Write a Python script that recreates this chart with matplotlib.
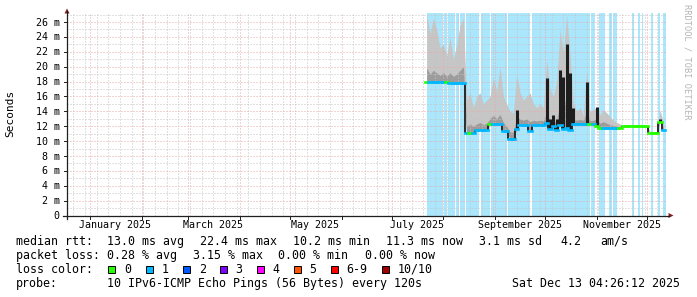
import numpy as np
import pandas as pd
import matplotlib
matplotlib.use("Agg")
import matplotlib.pyplot as plt
import matplotlib.dates as mdates
from matplotlib.lines import Line2D
from matplotlib.patches import Polygon, Rectangle

W, H = 697, 297
MONO = "DejaVu Sans Mono"

# graph window: rrdtool end = "now", 360 days back
t_start = pd.Timestamp("2024-12-18 04:26:12")
t_end = pd.Timestamp("2025-12-13 04:26:12")
year0 = pd.Timestamp("2025-01-01")

# samples every 2 days starting at day-of-year 202 (22 Jul 2025)
first_doy = 202.0
step_days = 2.0

median_ms = [18.0, 18.0, 18.0, 18.0, 18.0, 18.0, 18.0,
             17.8, 17.8, 17.8, 17.8, 17.8,
             11.1, 11.1, 11.1,
             11.5, 11.5, 11.5, 11.5,
             12.3, 12.3, 12.3, 12.3,
             11.4, 11.4,
             10.3, 10.3,
             11.6,
             12.2, 12.2, 12.2,
             11.3,
             12.2, 12.2, 12.2, 12.2,
             12.4,
             11.6, 12.0, 11.5, 12.1, 11.6, 11.8, 11.5, 12.3,
             12.3, 12.3, 12.3, 12.3, 12.3, 12.3,
             12.0,
             11.8, 11.8, 11.8, 11.8, 11.8, 11.8, 11.8,
             12.05, 12.05, 12.05, 12.05, 12.05, 12.05, 12.05, 12.05,
             11.1, 11.1, 11.1,
             12.5,
             11.5]

loss_pings = [0, 1, 1, 1, 1, 1, 0, 1, 1, 1, 1, 1,
              1, 0, 1, 1, 1, 1, 1, 0, 1, 1, 1, 1, 1,
              1, 1, 1, 1, 1, 1, 1,
              1, 1, 1, 1, 1, 1, 1, 1, 1, 1, 1, 1, 1, 1, 1, 1, 1,
              0, 1, 0, 0, 1, 1, 1, 1, 1,
              0, 0, 0, 0, 0, 0, 0, 0, 0, 0, 0, 0, 0,
              1]

smoke_hi = [27.0, 24.5, 26.5, 25.0, 22.5, 23.0, 21.5, 24.0, 21.0, 23.0, 25.5, 26.5,
            15.5, 16.5, 14.5, 16.0, 16.5, 15.0, 15.5, 16.0, 18.5, 16.7, 20.0, 16.0,
            15.0, 14.0, 13.8, 19.0, 16.5, 15.5, 16.0, 16.5, 15.0, 14.5, 15.0, 14.5,
            21.0, 17.0, 16.0, 18.0, 25.0, 21.8, 26.9, 21.6, 15.0, 14.0, 14.5, 13.5,
            19.6, 14.0, 14.2, 14.6,
            13.5, 14.2, 13.8, 13.3, 12.8, 12.5, 12.3,
            12.2, 12.2, 12.2, 12.2, 12.2, 12.2, 12.2, 12.2,
            11.3, 11.3, 11.3,
            14.2, 12.5]

smoke_mid = [19.8, 19.0, 19.5, 19.2, 18.8, 19.2, 18.7, 19.2, 18.7, 19.0, 19.5, 20.0,
             12.0, 12.3, 12.0, 12.3, 12.5, 12.2, 12.4, 13.0, 13.5, 13.0, 13.6, 12.5,
             12.0, 11.2, 11.2, 13.2, 13.0, 12.8, 13.0, 12.6, 12.8, 12.7, 12.8, 12.7,
             14.0, 12.6, 12.4, 12.8, 15.0, 14.0, 16.5, 14.5, 13.0, 12.8, 12.9, 12.8,
             14.0, 12.7, 12.8, 13.0,
             12.4, 12.6, 12.4, 12.2, 12.1, 12.0, 11.9,
             12.1, 12.1, 12.1, 12.1, 12.1, 12.1, 12.1, 12.1,
             11.2, 11.2, 11.2,
             12.9, 11.8]

nan = np.nan
smoke_core = [nan] * 27 + [14.2] + [nan] * 8 + \
             [18.5, 13.0, 13.5, 13.0, 19.6, 18.6, 23.0, 19.1, 14.5,
              nan, nan, nan, 18.0, nan, nan, 14.6] + \
             [nan] * 18 + [12.9, nan]

# day-of-year spans with loss (painted as background)
loss_spans = [(202.0, 211.5), (212.3, 214.0), (214.7, 219.0), (219.6, 221.4),
              (222.0, 224.7), (225.5, 233.6), (234.3, 240.0), (240.8, 250.2),
              (250.8, 264.0), (265.0, 300.0), (300.6, 303.0), (305.1, 309.0),
              (311.1, 312.9), (313.5, 315.9), (325.2, 326.1), (328.8, 330.0),
              (330.9, 331.8), (336.6, 337.8), (340.8, 341.7), (343.8, 345.3)]

loss_labels = ["0", "1", "2", "3", "4", "5", "6-9", "10/10"]
loss_colors = ["#26ff00", "#00b8ff", "#0059ff", "#7e00ff",
               "#ff00ff", "#ff5500", "#ff0000", "#a10000"]

# text rows below the graph
rtt_row = ["median rtt:", "13.0 ms avg", "22.4 ms max", "10.2 ms min",
           "11.3 ms now", "3.1 ms sd", "4.2", "am/s"]
loss_row = ["packet loss:", "0.28 % avg", "3.15 % max", "0.00 % min", "0.00 % now"]
probe_text = "10 IPv6-ICMP Echo Pings (56 Bytes) every 120s"
stamp_text = "Sat Dec 13 04:26:12 2025"

# ---- geometry (pixels, y from top) ----
X0, X1 = 67.0, 667.0
Y0 = 215.5
PX_PER_MS = (215.5 - 22.0) / 26.0
Y_TOP_MS = 27.2


def fx(x):
    return x / W


def fy(y):
    return 1 - y / H


def xpx(ts):
    return X0 + (ts - t_start) / (t_end - t_start) * (X1 - X0)


def ypx(v):
    return Y0 - v * PX_PER_MS


fig = plt.figure(figsize=(W / 100, H / 100), dpi=100)
fig.patch.set_facecolor("white")
ax = fig.add_axes([fx(X0), fy(Y0), (X1 - X0) / W, Y_TOP_MS * PX_PER_MS / H])
ax.set_xlim(mdates.date2num(t_start), mdates.date2num(t_end))
ax.set_ylim(0, Y_TOP_MS)
ax.set_axis_off()

n = len(median_ms)
t = [year0 + pd.Timedelta(days=first_doy + step_days * i) for i in range(n)]
tn = mdates.date2num(t)
half = step_days / 2
med = np.array(median_ms)
core = np.array(smoke_core)

# loss background
for a, b in loss_spans:
    ax.axvspan(mdates.date2num(year0 + pd.Timedelta(days=a)),
               mdates.date2num(year0 + pd.Timedelta(days=b)),
               color="#aae6fc", lw=0, zorder=0.5)

# smoke (spiky, linear between samples)
ax.fill_between(tn, med, smoke_hi, color="#c6c6c6", lw=0, zorder=1.0)
ax.fill_between(tn, med, smoke_mid, color="#9c9c9c", lw=0, zorder=1.1)
has_core = ~np.isnan(core)
ax.vlines(tn[has_core], med[has_core], core[has_core], color="#1e1e1e",
          lw=2.2, zorder=2.5)

# grid
grid_kw = dict(lw=0.72, linestyle=(0, (1, 2)), zorder=2)
for v in range(1, 28):
    if v % 2:
        ax.axhline(v, color="#c4c4c4", **grid_kw)
for v in range(2, 28, 2):
    ax.axhline(v, color="#eaa8a8", **grid_kw)
months = pd.date_range("2025-01-01", "2025-12-01", freq="MS")
sundays = pd.date_range("2024-12-22", "2025-12-13", freq="7D")
for d in sundays:
    if d not in months:
        ax.axvline(mdates.date2num(d), color="#c4c4c4", **grid_kw)
for d in months:
    ax.axvline(mdates.date2num(d), color="#eaa8a8", **grid_kw)

# median line coloured by loss, level changes show as dark smoke edges
seg_cols = [loss_colors[k] for k in loss_pings]
ax.vlines(tn[1:] - half, med[:-1], med[1:], colors="#1e1e1e", lw=1.3, zorder=2.9)
ax.hlines(med, tn - half, tn + half, colors=seg_cols, lw=1.9,
          zorder=3, capstyle="projecting")

# axes, ticks, arrows (drawn in pixels)
axis_col = "#1f1f1f"
fig.add_artist(Line2D([fx(X0), fx(X0)], [fy(Y0 + 3), fy(11)], color=axis_col, lw=0.9))
fig.add_artist(Line2D([fx(63), fx(669)], [fy(Y0), fy(Y0)], color=axis_col, lw=0.9))
fig.add_artist(Polygon([(fx(64.5), fy(13.5)), (fx(69.5), fy(13.5)), (fx(67), fy(8.5))],
                       closed=True, color="#7f1f1f", lw=0))
fig.add_artist(Polygon([(fx(668.5), fy(213)), (fx(668.5), fy(218)), (fx(673.5), fy(215.5))],
                       closed=True, color="#7f1f1f", lw=0))

for v in range(0, 27, 2):
    y = ypx(v)
    fig.add_artist(Line2D([fx(63.5), fx(X0)], [fy(y), fy(y)], color=axis_col, lw=0.7))
    label = "0" if v == 0 else f"{v} m"
    fig.text(fx(59.5), fy(y + 3.6), label, ha="right", va="baseline",
             fontsize=7.2, family=MONO)

for d in months:
    x = xpx(d)
    fig.add_artist(Line2D([fx(x), fx(x)], [fy(Y0), fy(Y0 + 3)], color=axis_col, lw=0.7))

for d in pd.date_range("2025-01-01", "2025-11-01", freq="2MS"):
    x = xpx(d + pd.Timedelta(days=15))
    fig.text(fx(x), fy(228), d.strftime("%B %Y"), ha="center", va="baseline",
             fontsize=7.2, family=MONO)

fig.text(fx(10.5), fy(113.5), "Seconds", rotation=90, ha="center", va="center",
         fontsize=8, family=MONO)
fig.text(fx(687), fy(4.5), "RRDTOOL / TOBI OETIKER", rotation=270, ha="center",
         va="top", fontsize=6.2, family=MONO, color="#b4b4b4")

# legend rows
FS = 8.37
rtt_x = [16, 107, 200, 293.3, 386, 479.3, 560.7, 600]
for s, x in zip(rtt_row, rtt_x):
    fig.text(fx(x), fy(245), s, ha="left", va="baseline", fontsize=FS, family=MONO)
loss_x = [16, 107, 193.3, 278.3, 365]
for s, x in zip(loss_row, loss_x):
    fig.text(fx(x), fy(259), s, ha="left", va="baseline", fontsize=FS, family=MONO)

fig.text(fx(16), fy(272.8), "loss color:", ha="left", va="baseline", fontsize=FS, family=MONO)
sq_x = [108, 145.7, 182.7, 219.7, 256.7, 293.7, 330.7, 381.7]
for lab, col, x in zip(loss_labels, loss_colors, sq_x):
    fig.add_artist(Rectangle((fx(x), fy(273)), 7.3 / W, 7.3 / H, facecolor=col,
                             edgecolor="black", lw=0.7))
    fig.text(fx(x + 16), fy(272.8), lab, ha="left", va="baseline", fontsize=FS, family=MONO)

fig.text(fx(16), fy(286.6), "probe:", ha="left", va="baseline", fontsize=FS, family=MONO)
fig.text(fx(107), fy(286.6), probe_text, ha="left", va="baseline", fontsize=FS, family=MONO)
fig.text(fx(680), fy(286.6), stamp_text, ha="right", va="baseline", fontsize=FS, family=MONO)

fig.savefig("out.png", dpi=100)
